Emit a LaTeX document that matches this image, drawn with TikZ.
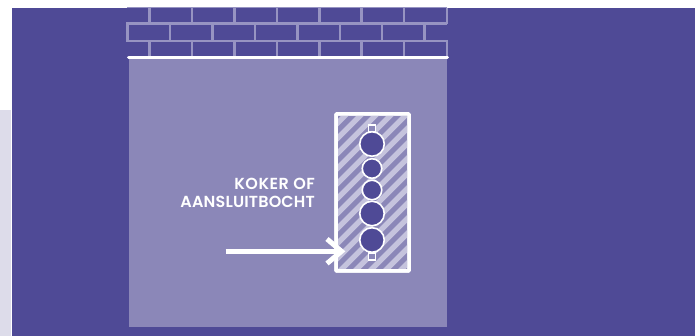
\documentclass[tikz,border=0pt]{standalone}
\usepackage{fontspec}
\setmainfont{Poppins}[BoldFont={Poppins SemiBold}]
\definecolor{bgp}{HTML}{4F4A96}
\definecolor{panel}{HTML}{8B87B8}
\definecolor{bricky}{HTML}{9794C2}
\definecolor{strip}{HTML}{DDDCEA}
\definecolor{hatch}{HTML}{C5C3DD}
\tikzset{
  brick/.style={draw=bricky,line width=2.5pt},
  pipe/.style={circle,draw=white,fill=bgp,line width=1.6pt,inner sep=0pt},
  stub/.style={rectangle,draw=white,fill=panel,line width=1.2pt,inner sep=0pt,minimum width=6.5pt,minimum height=7pt},
  label/.style={text=white,font=\bfseries\fontsize{16pt}{18pt}\selectfont,align=right,inner sep=0pt,anchor=base east},
  chute/.style={rectangle,draw=white,line width=3.5pt,rounded corners=0.8pt,inner sep=0pt,minimum width=73pt,minimum height=157pt},
  arrowline/.style={draw=white,line width=5pt}
}
\begin{document}
\begin{tikzpicture}[x=1pt,y=-1pt]
\useasboundingbox (0,0) rectangle (699,336);
\fill[white] (0,0) rectangle (699,336);
\fill[strip] (0,110) rectangle (11,336);
\fill[bgp] (12,8) rectangle (695,336);
% bricks
\begin{scope}
\clip (120,8) rectangle (455,60);
\draw[brick] (127,7.2) -- (447,7.2);
\draw[brick] (127,23.5) -- (447,23.5);
\draw[brick] (127,41) -- (447,41);
\foreach \i in {0,...,6}{
  \draw[brick] ({149.7+42.4*\i},8) -- ({149.7+42.4*\i},23.5);
  \draw[brick] ({149.7+42.4*\i},41) -- ({149.7+42.4*\i},57);
  \draw[brick] ({170.2+42.4*\i},23.5) -- ({170.2+42.4*\i},41);
}
\draw[brick] (127.5,22.5) -- (127.5,42);
\draw[brick] (447,8) -- (447,24.5);
\draw[brick] (447,40) -- (447,57);
\end{scope}
\fill[panel] (129,57) rectangle (447,327);
\draw[white,line width=3pt,line cap=round] (128.5,57.5) -- (447.5,57.5);
% chute
\node[chute] (koker) at (372.5,192.5) {};
\begin{scope}
\clip (336,114) rectangle (409,271);
\foreach \i in {-16,...,12}{
  \fill[hatch] ({336+\i*15},271) -- ({343.5+\i*15},271) -- ({343.5+\i*15+157},114) -- ({336+\i*15+157},114) -- cycle;
}
\end{scope}
\node[chute] at (koker) {};
\node[stub] (s1) at (372,128.5) {};
\node[stub] (s2) at (372,256.5) {};
\node[pipe,minimum size=24.5pt] (p1) at (372,144) {};
\node[pipe,minimum size=19.5pt] (p2) at (372,168.5) {};
\node[pipe,minimum size=19.5pt] (p3) at (372,190) {};
\node[pipe,minimum size=24.5pt] (p4) at (372,213.5) {};
\node[pipe,minimum size=24.5pt] (p5) at (372,240) {};
% label
\node[label] (lab1) at (315,190) {\addfontfeature{LetterSpace=3.2}KOKER OF};
\node[label] (lab2) at (315,207.7) {\addfontfeature{LetterSpace=1.0}AANSLUITBOCHT};
% arrow
\coordinate (a0) at (225.7,251.3);
\coordinate (tip) at (341.5,251.3);
\draw[arrowline] (a0) -- (tip);
\draw[arrowline,line cap=butt] (327,239) -- (tip) -- (327,263.5);
\end{tikzpicture}
\end{document}
